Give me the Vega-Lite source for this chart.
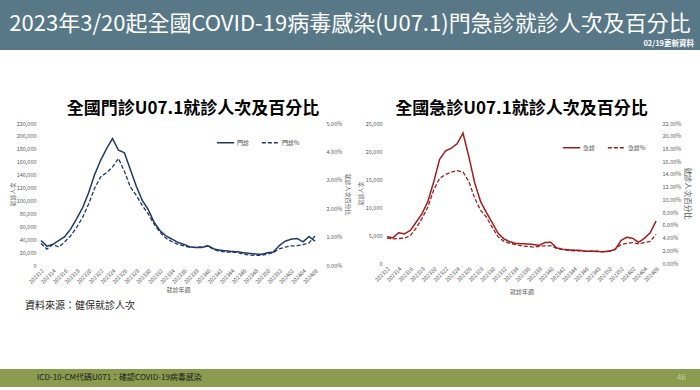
{
  "$schema": "https://vega.github.io/schema/vega-lite/v6.json",
  "padding": 0,
  "background": "white",
  "config": {
    "font": "Noto Sans CJK TC",
    "view": {"stroke": null},
    "axis": {"grid": false, "domain": false, "ticks": false, "labelFont": "Noto Sans CJK TC", "labelFontSize": 5.5, "labelColor": "#595959", "labelOverlap": false, "titleFont": "Noto Sans CJK TC", "titleFontSize": 6, "titleFontWeight": "normal", "titleColor": "#595959"},
    "title": {"font": "Noto Sans CJK TC"},
    "legend": {"labelFont": "Noto Sans CJK TC"}
  },
  "datasets": {
    "opd": [
      {"week": "202312", "count": 38000, "pct": 0.0076},
      {"week": "202313", "count": 29000, "pct": 0.0056},
      {"week": "202314", "count": 32000, "pct": 0.0072},
      {"week": "202315", "count": 38000, "pct": 0.0063},
      {"week": "202316", "count": 44000, "pct": 0.0082},
      {"week": "202317", "count": 56000, "pct": 0.0103},
      {"week": "202318", "count": 72000, "pct": 0.0133},
      {"week": "202319", "count": 89000, "pct": 0.0168},
      {"week": "202320", "count": 112000, "pct": 0.0215},
      {"week": "202321", "count": 140000, "pct": 0.027},
      {"week": "202322", "count": 162000, "pct": 0.031},
      {"week": "202323", "count": 180000, "pct": 0.0325},
      {"week": "202324", "count": 196000, "pct": 0.0345},
      {"week": "202325", "count": 178000, "pct": 0.0375},
      {"week": "202326", "count": 174000, "pct": 0.033},
      {"week": "202327", "count": 148000, "pct": 0.0275},
      {"week": "202328", "count": 122000, "pct": 0.0245},
      {"week": "202329", "count": 100000, "pct": 0.021},
      {"week": "202330", "count": 86000, "pct": 0.018},
      {"week": "202331", "count": 66000, "pct": 0.0144},
      {"week": "202332", "count": 53000, "pct": 0.0115},
      {"week": "202333", "count": 45000, "pct": 0.0094},
      {"week": "202334", "count": 40000, "pct": 0.0082},
      {"week": "202335", "count": 35000, "pct": 0.0073},
      {"week": "202336", "count": 32000, "pct": 0.0067},
      {"week": "202337", "count": 28000, "pct": 0.0062},
      {"week": "202338", "count": 27000, "pct": 0.0062},
      {"week": "202339", "count": 27000, "pct": 0.0064},
      {"week": "202340", "count": 30000, "pct": 0.0066},
      {"week": "202341", "count": 25000, "pct": 0.0055},
      {"week": "202342", "count": 23000, "pct": 0.0048},
      {"week": "202343", "count": 22000, "pct": 0.0046},
      {"week": "202344", "count": 21000, "pct": 0.0045},
      {"week": "202345", "count": 20500, "pct": 0.0044},
      {"week": "202346", "count": 19000, "pct": 0.0038},
      {"week": "202347", "count": 18000, "pct": 0.0035},
      {"week": "202348", "count": 17000, "pct": 0.0034},
      {"week": "202349", "count": 16500, "pct": 0.0034},
      {"week": "202350", "count": 19000, "pct": 0.0038},
      {"week": "202351", "count": 20000, "pct": 0.0044},
      {"week": "202352", "count": 30000, "pct": 0.0057},
      {"week": "202401", "count": 37000, "pct": 0.0063},
      {"week": "202402", "count": 40000, "pct": 0.0067},
      {"week": "202403", "count": 41000, "pct": 0.0068},
      {"week": "202404", "count": 36000, "pct": 0.0072},
      {"week": "202405", "count": 44000, "pct": 0.0078},
      {"week": "202406", "count": 37000, "pct": 0.0102}
    ],
    "er": [
      {"week": "202312", "count": 4700, "pct": 0.039},
      {"week": "202313", "count": 4500, "pct": 0.038},
      {"week": "202314", "count": 5400, "pct": 0.0385},
      {"week": "202315", "count": 5200, "pct": 0.039},
      {"week": "202316", "count": 5800, "pct": 0.043},
      {"week": "202317", "count": 7300, "pct": 0.055},
      {"week": "202318", "count": 8800, "pct": 0.07},
      {"week": "202319", "count": 11000, "pct": 0.088},
      {"week": "202320", "count": 14500, "pct": 0.115},
      {"week": "202321", "count": 18500, "pct": 0.133},
      {"week": "202322", "count": 20000, "pct": 0.139},
      {"week": "202323", "count": 20500, "pct": 0.143},
      {"week": "202324", "count": 21300, "pct": 0.145},
      {"week": "202325", "count": 23200, "pct": 0.143},
      {"week": "202326", "count": 19000, "pct": 0.128},
      {"week": "202327", "count": 14300, "pct": 0.102},
      {"week": "202328", "count": 11000, "pct": 0.083},
      {"week": "202329", "count": 9000, "pct": 0.072},
      {"week": "202330", "count": 7200, "pct": 0.056},
      {"week": "202331", "count": 5300, "pct": 0.041},
      {"week": "202332", "count": 4300, "pct": 0.034},
      {"week": "202333", "count": 3800, "pct": 0.031},
      {"week": "202334", "count": 3500, "pct": 0.029},
      {"week": "202335", "count": 3450, "pct": 0.027},
      {"week": "202336", "count": 3400, "pct": 0.026},
      {"week": "202337", "count": 3300, "pct": 0.025},
      {"week": "202338", "count": 3150, "pct": 0.026},
      {"week": "202339", "count": 3650, "pct": 0.027},
      {"week": "202340", "count": 3700, "pct": 0.027},
      {"week": "202341", "count": 2700, "pct": 0.023},
      {"week": "202342", "count": 2450, "pct": 0.021},
      {"week": "202343", "count": 2350, "pct": 0.02},
      {"week": "202344", "count": 2300, "pct": 0.019},
      {"week": "202345", "count": 2250, "pct": 0.019},
      {"week": "202346", "count": 2100, "pct": 0.0185},
      {"week": "202347", "count": 2100, "pct": 0.0185},
      {"week": "202348", "count": 2050, "pct": 0.0185},
      {"week": "202349", "count": 2000, "pct": 0.018},
      {"week": "202350", "count": 2100, "pct": 0.019},
      {"week": "202351", "count": 2400, "pct": 0.022},
      {"week": "202352", "count": 4000, "pct": 0.029},
      {"week": "202401", "count": 4600, "pct": 0.031},
      {"week": "202402", "count": 4400, "pct": 0.032},
      {"week": "202403", "count": 3700, "pct": 0.03},
      {"week": "202404", "count": 4400, "pct": 0.032},
      {"week": "202405", "count": 5400, "pct": 0.034},
      {"week": "202406", "count": 7500, "pct": 0.045}
    ]
  },
  "spacing": 50,
  "vconcat": [
    {
      "width": 700,
      "height": 50,
      "view": {"fill": "#587888", "stroke": null},
      "data": {"values": [{}]},
      "layer": [
        {"mark": {"type": "text", "text": "2023年3/20起全國COVID-19病毒感染(U07.1)門急診就診人次及百分比", "fontSize": 22, "color": "white", "align": "center", "baseline": "middle", "dy": -1}, "encoding": {}},
        {"mark": {"type": "text", "text": "02/19更新資料", "fontSize": 7.5, "fontWeight": "bold", "color": "white", "align": "right", "baseline": "bottom", "x": "width", "y": "height", "dx": -6, "dy": -2}, "encoding": {}}
      ]
    },
    {
      "spacing": 0,
      "vconcat": [
        {
          "spacing": 6,
          "resolve": {"scale": {"strokeDash": "independent"}, "legend": {"strokeDash": "independent"}},
          "hconcat": [
            {
              "width": 3,
              "height": 10,
              "data": {"values": [{}]},
              "mark": {"type": "text", "text": ""},
              "encoding": {}
            },
            {
              "width": 280,
              "height": 142,
              "data": {"name": "opd"},
              "title": {"text": "全國門診U07.1就診人次及百分比", "fontSize": 17, "fontWeight": "bold", "color": "#000000", "anchor": "middle", "frame": "group", "dx": 15, "offset": 3},
              "encoding": {
                "x": {"field": "week", "type": "ordinal", "sort": null, "scale": {"type": "point", "padding": 0.5},
                  "axis": {"title": "就診年週", "labelAngle": -45, "labelPadding": 3, "titlePadding": 2,
                    "values": ["202312","202314","202316","202318","202320","202322","202324","202326","202328","202330","202332","202334","202336","202338","202340","202342","202344","202346","202348","202350","202352","202402","202404","202406"]}}
              },
              "layer": [
                {
                  "mark": {"type": "line", "color": "#1F3864", "strokeWidth": 1.5},
                  "encoding": {
                    "y": {"field": "count", "type": "quantitative", "scale": {"domain": [0, 220000]},
                      "axis": {"title": "就診人次", "format": ",.0f", "values": [0,20000,40000,60000,80000,100000,120000,140000,160000,180000,200000,220000], "labelPadding": 2, "titlePadding": 1}},
                    "strokeDash": {"datum": "門診", "type": "nominal",
                      "scale": {"domain": ["門診", "門診%"], "range": [[1, 0], [4, 2]]},
                      "legend": {"orient": "none", "legendX": 178, "legendY": 10, "direction": "horizontal", "title": null, "symbolType": "stroke", "symbolSize": 300, "symbolStrokeWidth": 1.5, "symbolStrokeColor": "#1F3864", "labelFontSize": 6, "labelColor": "#404040", "columnPadding": 8, "labelOffset": 2}}
                  }
                },
                {
                  "mark": {"type": "line", "color": "#1F3864", "strokeWidth": 1.3},
                  "encoding": {
                    "y": {"field": "pct", "type": "quantitative", "scale": {"domain": [0, 0.05]},
                      "axis": {"orient": "right", "title": "就診人次百分比", "format": ".2%", "values": [0, 0.01, 0.02, 0.03, 0.04, 0.05], "labelPadding": 8, "titlePadding": 3}},
                    "strokeDash": {"datum": "門診%", "type": "nominal"}
                  }
                }
              ],
              "resolve": {"scale": {"y": "independent"}}
            },
            {
              "width": 275,
              "height": 140,
              "data": {"name": "er"},
              "title": {"text": "全國急診U07.1就診人次及百分比", "fontSize": 17, "fontWeight": "bold", "color": "#000000", "anchor": "middle", "frame": "group", "offset": 3},
              "encoding": {
                "x": {"field": "week", "type": "ordinal", "sort": null, "scale": {"type": "point", "padding": 0.5},
                  "axis": {"title": "就診年週", "labelAngle": -45, "labelPadding": 3, "titlePadding": 6,
                    "values": ["202312","202314","202316","202318","202320","202322","202324","202326","202328","202330","202332","202334","202336","202338","202340","202342","202344","202346","202348","202350","202352","202402","202404","202406"]}}
              },
              "layer": [
                {
                  "mark": {"type": "line", "color": "#A01B1B", "strokeWidth": 1.5},
                  "encoding": {
                    "y": {"field": "count", "type": "quantitative", "scale": {"domain": [0, 25000]},
                      "axis": {"title": "就診人次", "format": ",.0f", "values": [0, 5000, 10000, 15000, 20000, 25000], "labelPadding": 2, "titlePadding": 2}},
                    "strokeDash": {"datum": "急診", "type": "nominal",
                      "scale": {"domain": ["急診", "急診%"], "range": [[1, 0], [4, 2]]},
                      "legend": {"orient": "none", "legendX": 178, "legendY": 15, "direction": "horizontal", "title": null, "symbolType": "stroke", "symbolSize": 300, "symbolStrokeWidth": 1.5, "symbolStrokeColor": "#A01B1B", "labelFontSize": 6, "labelColor": "#404040", "columnPadding": 8, "labelOffset": 2}}
                  }
                },
                {
                  "mark": {"type": "line", "color": "#A01B1B", "strokeWidth": 1.3},
                  "encoding": {
                    "y": {"field": "pct", "type": "quantitative", "scale": {"domain": [0, 0.22]},
                      "axis": {"orient": "right", "title": "就診人次百分比", "titleFontSize": 7.5, "format": ".2%", "values": [0, 0.02, 0.04, 0.06, 0.08, 0.1, 0.12, 0.14, 0.16, 0.18, 0.2, 0.22], "labelPadding": 3, "titlePadding": 2}},
                    "strokeDash": {"datum": "急診%", "type": "nominal"}
                  }
                }
              ],
              "resolve": {"scale": {"y": "independent"}}
            }
          ]
        },
        {
          "width": 700,
          "height": 74,
          "data": {"values": [{}]},
          "mark": {"type": "text", "text": ""},
          "encoding": {},
          "title": {"text": "資料來源：健保就診人次", "anchor": "start", "frame": "group", "fontSize": 10, "fontWeight": "normal", "color": "#222222", "dx": 25, "offset": -16}
        },
        {
          "width": 700,
          "height": 18,
          "view": {"fill": "#8B9B50", "stroke": null},
          "data": {"values": [{}]},
          "title": {"text": "ICD-10-CM代碼U071：確認COVID-19病毒感染", "anchor": "start", "frame": "group", "orient": "top", "offset": -13, "dx": 37, "fontSize": 8, "fontWeight": "normal", "color": "#1A1A1A"},
          "layer": [
            {"mark": {"type": "text", "text": "46", "fontSize": 8, "color": "#C9D1A9", "align": "right", "baseline": "middle", "x": "width", "dx": -14}, "encoding": {}}
          ]
        }
      ]
    }
  ]
}
